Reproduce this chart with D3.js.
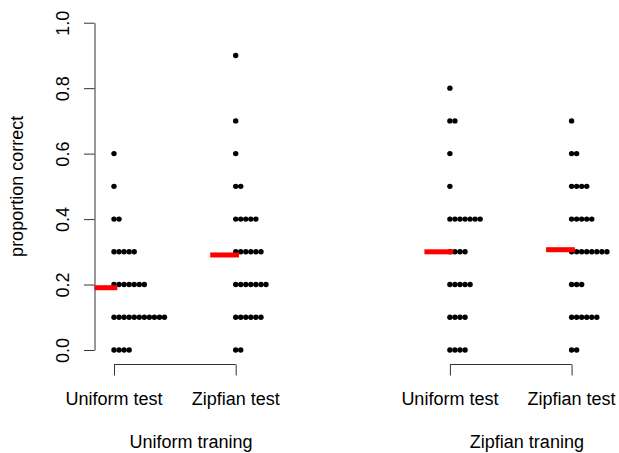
<!DOCTYPE html>
<html><head><meta charset="utf-8">
<script src="https://cdn.jsdelivr.net/npm/d3@7"></script>
<style>body{margin:0;background:#fff}svg{display:block}</style>
</head><body><svg id="c" width="619" height="453"></svg>
<script>
// score levels (proportion correct) and number of participants at each level
const levels = [0, 0.1, 0.2, 0.3, 0.4, 0.5, 0.6, 0.7, 0.8, 0.9];
const countsUniformTrainUniformTest = [4, 11, 7, 5, 2, 1, 1, 0, 0, 0];
const countsUniformTrainZipfianTest = [2, 6, 7, 6, 5, 2, 1, 1, 0, 1];
const countsZipfianTrainUniformTest = [4, 4, 5, 4, 7, 1, 1, 2, 1, 0];
const countsZipfianTrainZipfianTest = [2, 6, 3, 8, 5, 4, 2, 1, 0, 0];
const testLabels = ["Uniform test", "Zipfian test", "Uniform test", "Zipfian test"];
const trainingLabels = ["Uniform traning", "Zipfian traning"];
const yTicks = [0, 0.2, 0.4, 0.6, 0.8, 1.0];
const yLabel = "proportion correct";

const groups = [countsUniformTrainUniformTest, countsUniformTrainZipfianTest,
                countsZipfianTrainUniformTest, countsZipfianTrainZipfianTest];
const groupPos = [1, 2, 3.76, 4.76];

const svg = d3.select("#c");
const font = "'Liberation Sans', Arial, Helvetica, sans-serif";
const fs = 18;
const axisColor = "#333";

const y = d3.scaleLinear().domain([0, 1]).range([350, 22.7]);
const x = d3.scaleLinear().domain([1, 2]).range([114, 235.7]);
const axisX = 94.5;
const dotStep = 5.05, dotR = 2.7;

// y axis
const gy = svg.append("g").attr("transform", `translate(${axisX},0)`)
  .call(d3.axisLeft(y).tickValues(yTicks).tickFormat(d3.format(".1f")).tickSize(10.5).tickSizeOuter(0));
gy.select(".domain").attr("stroke", axisColor);
gy.selectAll(".tick line").attr("stroke", axisColor);
gy.selectAll(".tick text").remove();
gy.selectAll(".tick").append("text")
  .attr("transform", "translate(-26,0) rotate(-90)")
  .attr("text-anchor", "middle").attr("fill", "#000")
  .style("font-family", font).style("font-size", fs + "px")
  .text(d => d3.format(".1f")(d));

svg.append("text")
  .attr("transform", `translate(23,${y(0.5)}) rotate(-90)`)
  .attr("text-anchor", "middle").style("font-family", font).style("font-size", fs + "px")
  .text(yLabel);

// x axes (one per training panel)
[[0, 1], [2, 3]].forEach((pair, pi) => {
  const ax = d3.axisBottom(x).tickValues(pair.map(i => groupPos[i])).tickSize(11).tickSizeOuter(0).tickFormat(() => "");
  const g = svg.append("g").attr("transform", "translate(0,364.5)").call(ax);
  g.select(".domain").attr("stroke", axisColor)
    .attr("d", `M${x(groupPos[pair[0]])},0H${x(groupPos[pair[1]])}`);
  g.selectAll(".tick line").attr("stroke", axisColor);
  pair.forEach(i => {
    svg.append("text").attr("x", x(groupPos[i])).attr("y", 405)
      .attr("text-anchor", "middle").style("font-family", font).style("font-size", fs + "px")
      .text(testLabels[i]);
  });
  svg.append("text").attr("x", x(groupPos[pair[0]]) + 77).attr("y", 448)
    .attr("text-anchor", "middle").style("font-family", font).style("font-size", fs + "px")
    .text(trainingLabels[pi]);
});

// stacked dots
groups.forEach((counts, gi) => {
  const pts = [];
  counts.forEach((n, li) => { for (let k = 0; k < n; k++) pts.push({v: levels[li], k}); });
  svg.append("g").selectAll("circle").data(pts).join("circle")
    .attr("cx", d => x(groupPos[gi]) + d.k * dotStep)
    .attr("cy", d => y(d.v))
    .attr("r", dotR).attr("fill", "#000");
  // mean bar
  const total = d3.sum(counts);
  const mean = d3.sum(counts, (n, li) => n * levels[li]) / total;
  const cx = x(groupPos[gi]);
  const x0 = Math.max(axisX, cx - 25.5), x1 = cx + 3.3;
  svg.append("rect").attr("x", x0).attr("y", y(mean) - 2.5)
    .attr("width", x1 - x0).attr("height", 5).attr("fill", "#ff0000");
});
</script>
</body></html>
